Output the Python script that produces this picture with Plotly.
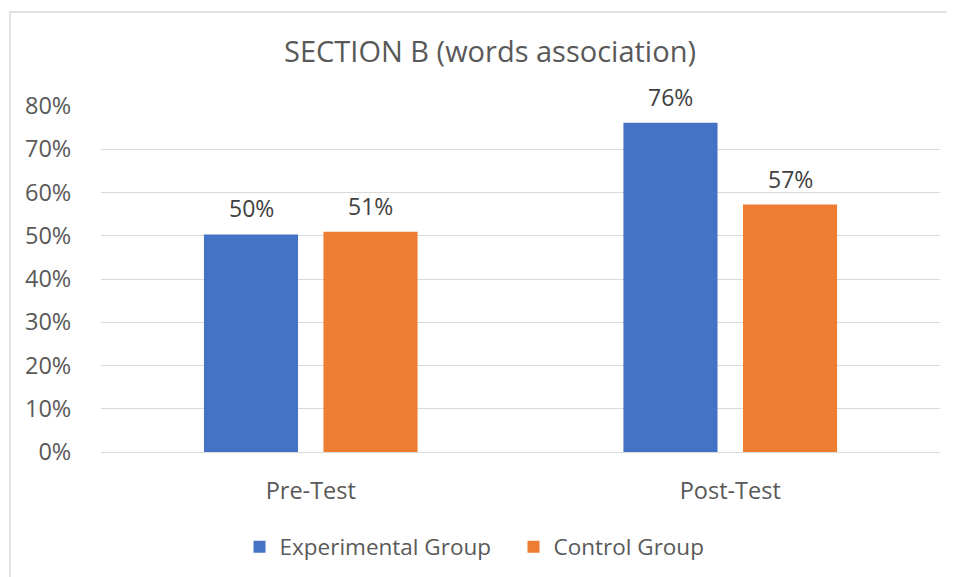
import plotly.graph_objects as go

categories = ["Pre-Test", "Post-Test"]
experimental = [0.503, 0.761]
control = [0.509, 0.572]
series_names = ["Experimental Group", "Control Group"]
colors = ["#4472C4", "#ED7D31"]
title_text = "SECTION B (words association)"
ytick_vals = [0, 0.1, 0.2, 0.3, 0.4, 0.5, 0.6, 0.7, 0.8]

FONT = "Open Sans"
TXT = "#595959"
BODY = 8  # default page body margin

fig = go.Figure()
for name, vals, col in zip(series_names, [experimental, control], colors):
    fig.add_trace(go.Bar(
        x=categories, y=vals, name=name, marker=dict(color=col, line=dict(width=0)),
    ))

# value labels above bars
slot_px = 119.5
for i, vals in enumerate([experimental, control]):
    shift = (-0.5 + i) * slot_px
    for c, v in zip(categories, vals):
        fig.add_annotation(x=c, y=v, xref="x", yref="y", text=f"{round(v*100)}%",
                           showarrow=False, xshift=shift, yshift=26,
                           font=dict(family=FONT, size=23, color="#404040"))

fig.add_shape(type="rect", xref="paper", yref="paper",
              x0=-0.1085, x1=1.2, y0=-1, y1=1.2717,
              line=dict(color="#d9d9d9", width=1.5), fillcolor="rgba(0,0,0,0)", layer="below")

W, H = 955 - BODY, 577 - BODY
L, T = 101 - BODY, 106 - BODY
PW, PH = 839, 346
fig.update_layout(
    width=W, height=H,
    margin=dict(l=L, r=W - L - PW, t=T, b=H - T - PH, autoexpand=False),
    paper_bgcolor="white", plot_bgcolor="white",
    title=dict(text=title_text, x=(490 - BODY) / W, xanchor="center",
               y=1 - (52 - BODY) / H, yanchor="middle",
               font=dict(family=FONT, size=29, color=TXT)),
    barmode="group", bargap=0.43, bargroupgap=0.213,
    showlegend=True,
    legend=dict(orientation="h", x=0.5 - 7 / 839, xanchor="center",
                yref="container", y=1 - (547 - BODY) / H, yanchor="middle",
                font=dict(family=FONT, size=22.5, color=TXT), itemwidth=30,
                entrywidth=229),
    xaxis=dict(showgrid=False, ticks="outside", ticklen=18, tickcolor="rgba(0,0,0,0)",
               tickfont=dict(family=FONT, size=23.5, color=TXT), showline=False, zeroline=False,
               automargin=False),
    yaxis=dict(range=[0, 0.8], tickvals=ytick_vals, tickformat=".0%",
               showgrid=True, gridcolor="#d9d9d9", gridwidth=1.3,
               zeroline=True, zerolinecolor="#d9d9d9", zerolinewidth=1.3,
               ticks="outside", ticklen=24, tickcolor="rgba(0,0,0,0)",
               tickfont=dict(family=FONT, size=23.5, color=TXT), showline=False,
               automargin=False),
)

fig.write_html("out.html")
